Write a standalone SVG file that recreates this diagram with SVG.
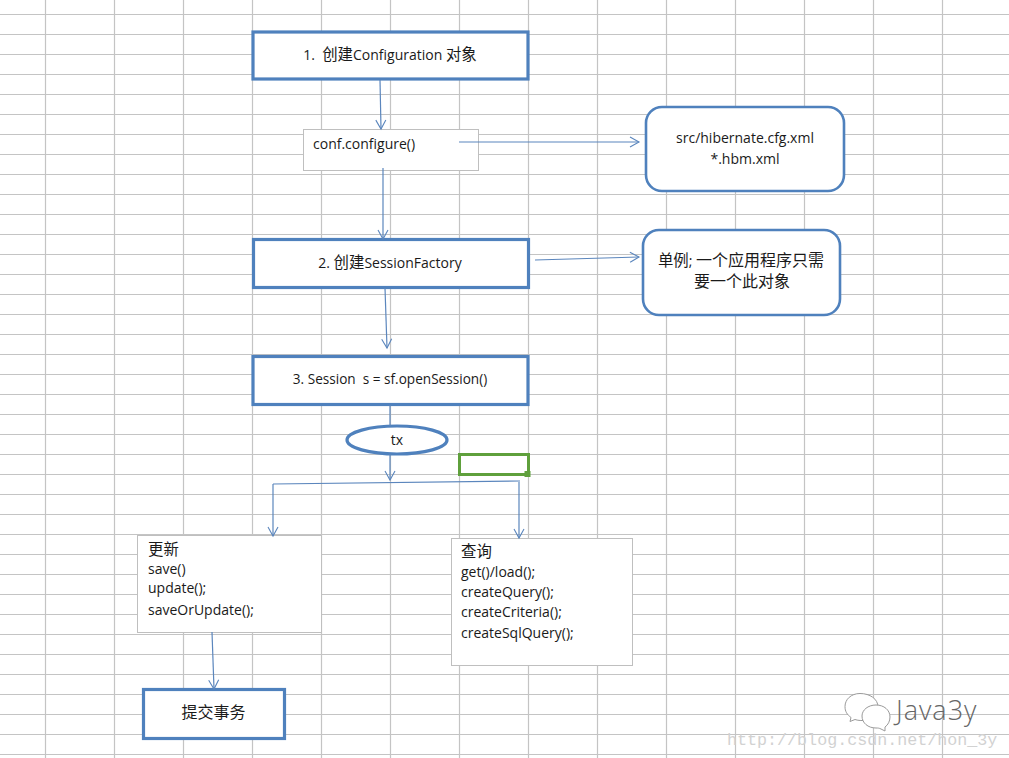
<svg xmlns="http://www.w3.org/2000/svg" width="1009" height="758" viewBox="0 0 1009 758">
<style>
text{font-family:"Open Sans","Noto Sans CJK SC",sans-serif;font-size:14px;fill:#1a1a1a;white-space:pre}
.k{font-size:15.4px}
.h{font-size:16px}
.m{text-anchor:middle}
.b{fill:#fff;stroke:#4f81bd;stroke-width:3.2}
.r{fill:#fff;stroke:#4f81bd;stroke-width:2.6}
.t{fill:#fff;stroke:#bfbfbf;stroke-width:1}
.c{fill:none;stroke:#5b86bd;stroke-width:1.2}
.g{stroke:#c4c4c4;stroke-width:1.2;fill:none}
.w{fill:#fff;stroke:#9a9a9a;stroke-width:1}
.j{font-family:"Open Sans",sans-serif;font-size:27px;font-weight:300;letter-spacing:1px;fill:#666}
.u{font-family:"Liberation Mono",monospace;font-size:16.7px;fill:#d2d2d2}
</style>
<defs>
<marker id="a" markerWidth="12" markerHeight="12" refX="10" refY="6" orient="auto" markerUnits="userSpaceOnUse"><path d="M1 1L10 6L1 11" fill="none" stroke="#5b86bd" stroke-width="1.1"/></marker>
</defs>
<rect width="1009" height="758" fill="#fff"/>
<path class="g" id="grid" d="M45.5 0V758M114.5 0V758M183.5 0V758M252.5 0V758M321.5 0V758M390.5 0V758M459.5 0V758M528.5 0V758M597.5 0V758M666.5 0V758M735.5 0V758M804.5 0V758M873.5 0V758M942.5 0V758M0 14.5H1009M0 34.5H1009M0 54.5H1009M0 74.5H1009M0 94.5H1009M0 114.5H1009M0 134.5H1009M0 154.5H1009M0 174.5H1009M0 194.5H1009M0 214.5H1009M0 234.5H1009M0 254.5H1009M0 274.5H1009M0 294.5H1009M0 314.5H1009M0 334.5H1009M0 354.5H1009M0 374.5H1009M0 394.5H1009M0 414.5H1009M0 434.5H1009M0 454.5H1009M0 474.5H1009M0 494.5H1009M0 514.5H1009M0 534.5H1009M0 554.5H1009M0 574.5H1009M0 594.5H1009M0 614.5H1009M0 634.5H1009M0 654.5H1009M0 674.5H1009M0 694.5H1009M0 714.5H1009M0 734.5H1009M0 754.5H1009"/>
<g id="n1"><rect class="b" x="253" y="32" width="275" height="47"/><text class="m" x="390" y="60">1.  <tspan class="k">创建</tspan>Configuration <tspan class="k">对象</tspan></text></g>
<g id="n2"><rect class="t" x="303.500" y="129.500" width="175" height="41"/><text x="313" y="149">conf.configure()</text></g>
<g id="n3"><rect class="r" x="646" y="107" width="198" height="84" rx="16"/><text class="m" x="745" y="143">src/hibernate.cfg.xml</text><text class="m" x="745" y="164">*.hbm.xml</text></g>
<g id="n4"><rect class="b" x="253.500" y="239.500" width="275" height="48"/><text class="m" x="390" y="268">2. <tspan class="k">创建</tspan>SessionFactory</text></g>
<g id="n5"><rect class="r" x="643" y="230" width="197" height="85" rx="16"/><text class="m" x="741" y="266"><tspan class="k">单例</tspan>; <tspan class="h">一个应用程序只需</tspan></text><text class="m h" x="742" y="287">要一个此对象</text></g>
<g id="n6"><rect class="b" x="253" y="356.500" width="275" height="48"/><text class="m" x="390" y="384" style="font-size:13.6px">3. Session  s = sf.openSession()</text></g>
<g id="n7"><ellipse class="b" cx="397" cy="440" rx="50" ry="14"/><text class="m" x="397" y="445">tx</text></g>
<g id="cell"><rect x="459.500" y="454.500" width="69" height="20" fill="none" stroke="#5fa03c" stroke-width="3"/><rect x="524.500" y="471" width="6" height="6" fill="#5fa03c"/></g>
<g id="n8"><rect class="t" x="137.500" y="535.500" width="184" height="97"/><text class="k" x="148" y="555">更新</text><text x="148" y="574">save()</text><text x="148" y="593">update();</text><text x="148" y="615">saveOrUpdate();</text></g>
<g id="n9"><rect class="t" x="451.500" y="538.500" width="181" height="127"/><text class="k" x="461" y="557">查询</text><text x="461" y="577">get()/load();</text><text x="461" y="597">createQuery();</text><text x="461" y="617">createCriteria();</text><text x="461" y="638">createSqlQuery();</text></g>
<g id="n10"><rect class="b" x="143.500" y="689.500" width="141" height="49"/><text class="m h" x="213.500" y="718">提交事务</text></g>
<g id="connectors">
<path class="c" d="M380 80L381 129" marker-end="url(#a)"/>
<path class="c" d="M459 142H639" marker-end="url(#a)"/>
<path class="c" d="M383 168V239" marker-end="url(#a)"/>
<path class="c" d="M535 260L639 257" marker-end="url(#a)"/>
<path class="c" d="M385 288L387 348" marker-end="url(#a)"/>
<path class="c" d="M390 405V426"/>
<path class="c" d="M390 454V480" marker-end="url(#a)"/>
<path class="c" d="M273 484L520 481"/>
<path class="c" d="M273 484V536" marker-end="url(#a)"/>
<path class="c" d="M519 482V538" marker-end="url(#a)"/>
<path class="c" d="M212 632L214 689" marker-end="url(#a)"/>
</g>
<g id="watermark">
<path class="w" d="M860 693.500c-9 0-15 6-15 13c0 5 2 8 6 11l-1 4l5-2c3 1 5 1 8 1c9 0 15-6 15-13.500c0-8-8-13.500-18-13.500z"/>
<path class="w" d="M876 705c-8 0-14 5-14 11c0 7 6 12 14 12c2 0 3 0 5 1l4 2v-4c3-2 5-6 5-10c0-7-6-12-14-12z"/>
<text class="j" x="896" y="720">Java3y</text>
<text class="u" x="727" y="745">http://blog.csdn.net/hon_3y</text>
</g>
</svg>
